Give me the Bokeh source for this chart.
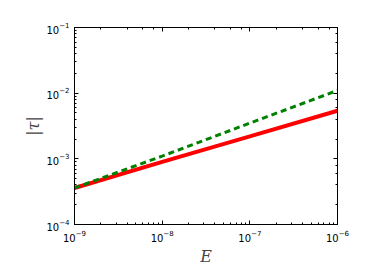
from bokeh.plotting import figure
from bokeh.models import LogAxis, Range1d, CustomJSTickFormatter, LogTicker
from bokeh.embed import file_html
from bokeh.resources import INLINE

# Data
E = [1e-9, 1e-8, 1e-7, 1e-6]
tau_red = [3.6e-4, 9.0e-4, 2.2e-3, 5.4e-3]
tau_green = [3.6e-4, 1.1e-3, 3.5e-3, 1.1e-2]

p = figure(width=366, height=268, x_axis_type="log", y_axis_type="log",
           x_range=Range1d(1e-9, 1e-6), y_range=Range1d(1e-4, 1e-1),
           output_backend="svg", toolbar_location=None,
           min_border_left=74, min_border_right=29, min_border_top=27, min_border_bottom=41)

p.line(E, tau_red, line_color="#ff0000", line_width=4)
p.line(E, tau_green, line_color="#008000", line_width=3, line_dash="6 4")

p.grid.visible = False
p.outline_line_color = "black"
p.outline_line_width = 1

for ax in (p.xaxis[0], p.yaxis[0]):
    ax.major_tick_in = 4
    ax.major_tick_out = 0
    ax.minor_tick_in = 2
    ax.minor_tick_out = 0
    ax.major_label_text_font = "DejaVu Sans"
    ax.major_label_text_font_size = "10px"
    ax.major_label_text_color = "black"
    ax.axis_line_color = "black"
    ax.major_tick_line_color = "black"
    ax.minor_tick_line_color = "black"
    ax.major_label_standoff = 5

p.xaxis[0].axis_label = "E"
p.yaxis[0].axis_label = "|τ|"
for ax in (p.xaxis[0], p.yaxis[0]):
    ax.axis_label_text_font = "DejaVu Serif"
    ax.axis_label_text_font_style = "italic"
    ax.axis_label_text_font_size = "16px"
p.xaxis[0].axis_label_standoff = 2
p.yaxis[0].axis_label_standoff = 0

blank = CustomJSTickFormatter(code="return ''")
for loc in ("right", "above"):
    ax = LogAxis(ticker=LogTicker(), formatter=blank)
    ax.major_tick_in = 4
    ax.major_tick_out = 0
    ax.minor_tick_in = 2
    ax.minor_tick_out = 0
    ax.axis_line_color = "black"
    ax.major_label_standoff = 0
    p.add_layout(ax, loc)

open("out.html", "w").write(file_html(p, INLINE))
